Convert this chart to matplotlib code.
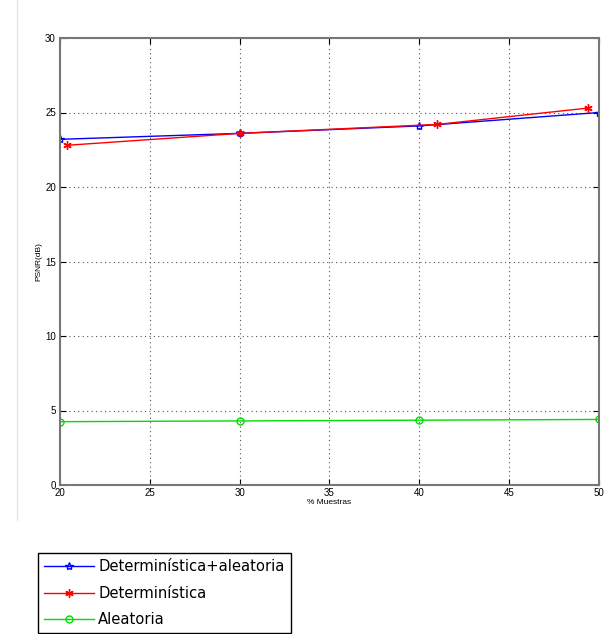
import matplotlib.pyplot as plt
from matplotlib.lines import Line2D

plt.rcParams['font.family'] = ['Liberation Sans', 'DejaVu Sans']

# PSNR vs porcentaje de muestras
x_det_ale = [20, 30, 40, 50]
psnr_det_ale = [23.2, 23.6, 24.1, 25.0]

x_det = [20.4, 30, 41, 49.4]
psnr_det = [22.8, 23.6, 24.2, 25.3]

x_ale = [20, 30, 40, 50]
psnr_ale = [4.25, 4.3, 4.35, 4.4]

xticks = [20, 25, 30, 35, 40, 45, 50]
yticks = [0, 5, 10, 15, 20, 25, 30]

fig = plt.figure(figsize=(6.11, 6.34), dpi=100)
ax = fig.add_axes([60 / 611, 1 - 485 / 634, 539 / 611, 447 / 634])

ax.plot(x_det_ale, psnr_det_ale, color='blue', lw=1, marker='*', ms=6,
        mfc='none', mec='blue', label='Determinística+aleatoria')
ax.plot(x_det, psnr_det, color='red', lw=1, marker=(6, 2, 0), ms=6,
        mec='red', label='Determinística')
ax.plot(x_ale, psnr_ale, color='#00dd00', lw=1, marker='o', ms=5,
        mfc='none', mec='#00dd00', label='Aleatoria')

ax.set_xlim(20, 50)
ax.set_ylim(0, 30)
ax.set_xticks(xticks)
ax.set_yticks(yticks)
ax.grid(True, color='#555555', linestyle=(0, (1, 3)), linewidth=0.8)
ax.tick_params(direction='in', length=4, labelsize=7,
               top=True, right=True, color='black')
ax.tick_params(axis='x', pad=2)
ax.tick_params(axis='y', pad=3)
for s in ax.spines.values():
    s.set_color('#777777')
    s.set_linewidth(1.5)

ax.set_xlabel('% Muestras', fontsize=6, labelpad=1)
ax.set_ylabel('PSNR(dB)', fontsize=6, labelpad=2)

leg = fig.legend(loc='upper left', bbox_to_anchor=(38 / 611, 1 - 553 / 634),
                 prop={'family': 'DejaVu Sans', 'size': 10.6},
                 frameon=True, fancybox=False, borderaxespad=0,
                 handlelength=3.4, handletextpad=0.3, labelspacing=0.8,
                 borderpad=0.4)
leg.get_frame().set_edgecolor('black')
leg.get_frame().set_linewidth(1)
leg.get_frame().set_alpha(1)

# línea de borde a la izquierda
fig.add_artist(Line2D([17 / 611, 17 / 611], [1 - 520 / 634, 1.0],
                      color='#e6e6e6', lw=1))

fig.savefig('out.png', dpi=100)
